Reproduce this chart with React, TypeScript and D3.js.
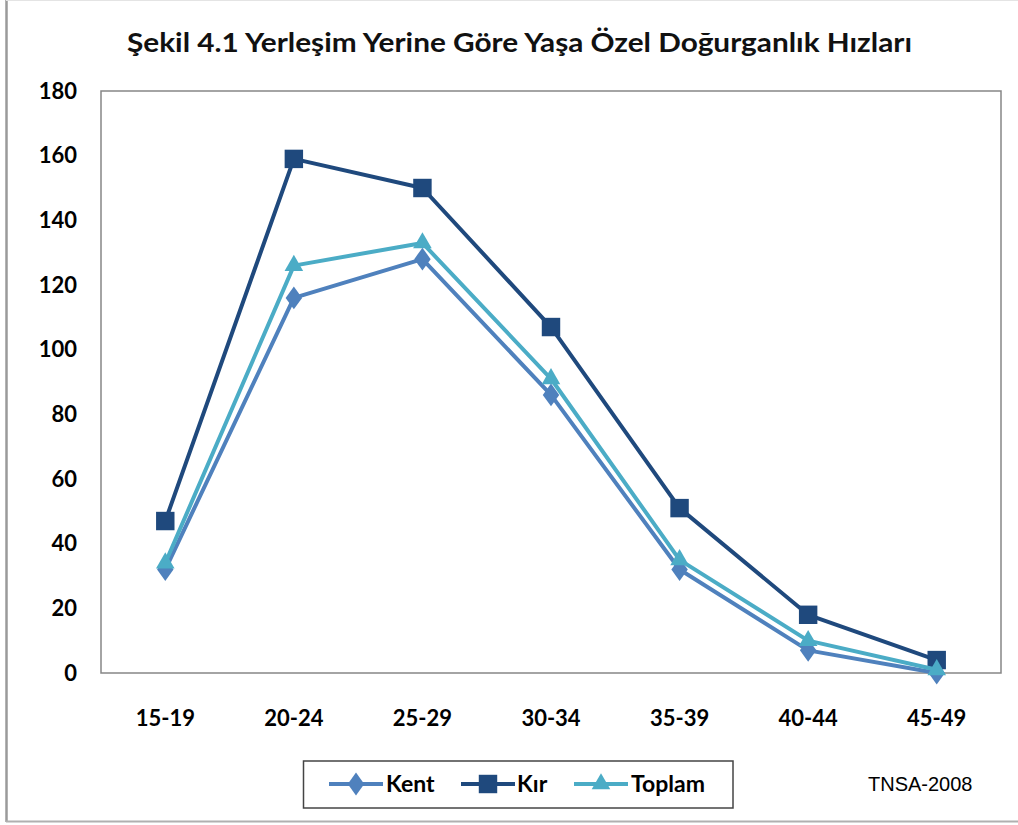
import React from "react";
import * as d3 from "d3";

const categories = ["15-19", "20-24", "25-29", "30-34", "35-39", "40-44", "45-49"];
const kent = [32, 116, 128, 86, 32, 7, 0];
const kir = [47, 159, 150, 107, 51, 18, 4];
const toplam = [34, 126, 133, 91, 35, 10, 1];
const yTicks = [0, 20, 40, 60, 80, 100, 120, 140, 160, 180];
const titleText = "Şekil 4.1 Yerleşim Yerine Göre Yaşa Özel Doğurganlık Hızları";
const sourceText = "TNSA-2008";

const W = 1018;
const H = 825;
const plot = { left: 101, right: 1001, top: 91, bottom: 673 };

const series = [
  { name: "Kent", values: kent, color: "#4F81BD", symbol: d3.symbolDiamond, size: 150 },
  { name: "Kır", values: kir, color: "#1F497D", symbol: d3.symbolSquare, size: 340 },
  { name: "Toplam", values: toplam, color: "#4BACC6", symbol: d3.symbolTriangle, size: 150 },
];

export default function App() {
  const x = d3.scaleBand().domain(categories).range([plot.left, plot.right]).padding(0);
  const y = d3.scaleLinear().domain([0, 180]).range([plot.bottom, plot.top]);
  const cx = (c: string) => (x(c) as number) + x.bandwidth() / 2;
  const font = "Lato, 'Open Sans', sans-serif";

  const legendItems = [
    { s: series[0], x0: 329, x1: 383, tx: 386 },
    { s: series[1], x0: 461, x1: 515, tx: 517 },
    { s: series[2], x0: 574, x1: 628, tx: 631 },
  ];

  return (
    <svg
      width={W}
      height={H}
      style={{ position: "absolute", left: 0, top: 0, background: "#fff" }}
    >
      <rect x={0} y={0} width={W} height={H} fill="#fff" />
      {/* outer frame */}
      <line x1={6.5} y1={0} x2={6.5} y2={822} stroke="#9a9a9a" strokeWidth={2.5} />
      <line x1={6} y1={821.5} x2={W} y2={821.5} stroke="#b0b0b0" strokeWidth={2} />
      <line x1={6} y1={0.5} x2={W} y2={0.5} stroke="#e4e4e4" strokeWidth={1} />

      <text
        x={(127 + 912) / 2}
        y={52}
        textAnchor="middle"
        fontFamily={font}
        fontWeight={700}
        fontSize={27}
        textLength={785}
        lengthAdjust="spacingAndGlyphs"
        fill="#111"
      >
        {titleText}
      </text>

      {/* plot frame */}
      <rect
        x={plot.left}
        y={plot.top}
        width={plot.right - plot.left}
        height={plot.bottom - plot.top}
        fill="none"
        stroke="#868686"
        strokeWidth={1.5}
      />

      {yTicks.map((t) => (
        <text
          key={t}
          x={77}
          y={y(t)}
          dy="0.35em"
          textAnchor="end"
          fontFamily={font}
          fontWeight={700}
          fontSize={22}
          fill="#000"
        >
          {t}
        </text>
      ))}
      {categories.map((c) => (
        <text
          key={c}
          x={cx(c)}
          y={718}
          dy="0.35em"
          textAnchor="middle"
          fontFamily={font}
          fontWeight={700}
          fontSize={22}
          fill="#000"
        >
          {c}
        </text>
      ))}

      {series.map((s) => {
        const line = d3
          .line<number>()
          .x((_, i) => cx(categories[i]))
          .y((v) => y(v));
        return (
          <g key={s.name}>
            <path d={line(s.values) || ""} fill="none" stroke={s.color} strokeWidth={4} strokeLinejoin="round" />
            {s.values.map((v, i) => (
              <path
                key={i}
                d={d3.symbol().type(s.symbol).size(s.size)() || ""}
                transform={`translate(${cx(categories[i])},${y(v)})${s.symbol === d3.symbolDiamond ? " scale(1.25,1)" : ""}`}
                fill={s.color}
              />
            ))}
          </g>
        );
      })}

      {/* legend */}
      <rect x={303.5} y={761} width={429.5} height={47} fill="#fff" stroke="#444" strokeWidth={1.5} />
      {legendItems.map(({ s, x0, x1, tx }) => (
        <g key={s.name}>
          <line x1={x0} y1={784} x2={x1} y2={784} stroke={s.color} strokeWidth={4} />
          <path
            d={d3.symbol().type(s.symbol).size(s.size)() || ""}
            transform={`translate(${(x0 + x1) / 2},784)${s.symbol === d3.symbolDiamond ? " scale(1.25,1)" : ""}`}
            fill={s.color}
          />
          <text x={tx} y={784} dy="0.35em" fontFamily={font} fontWeight={700} fontSize={23} fill="#000">
            {s.name}
          </text>
        </g>
      ))}

      <text x={868} y={784} dy="0.35em" fontFamily="'Liberation Sans', Arial, sans-serif" fontSize={20} fill="#000">
        {sourceText}
      </text>
    </svg>
  );
}
